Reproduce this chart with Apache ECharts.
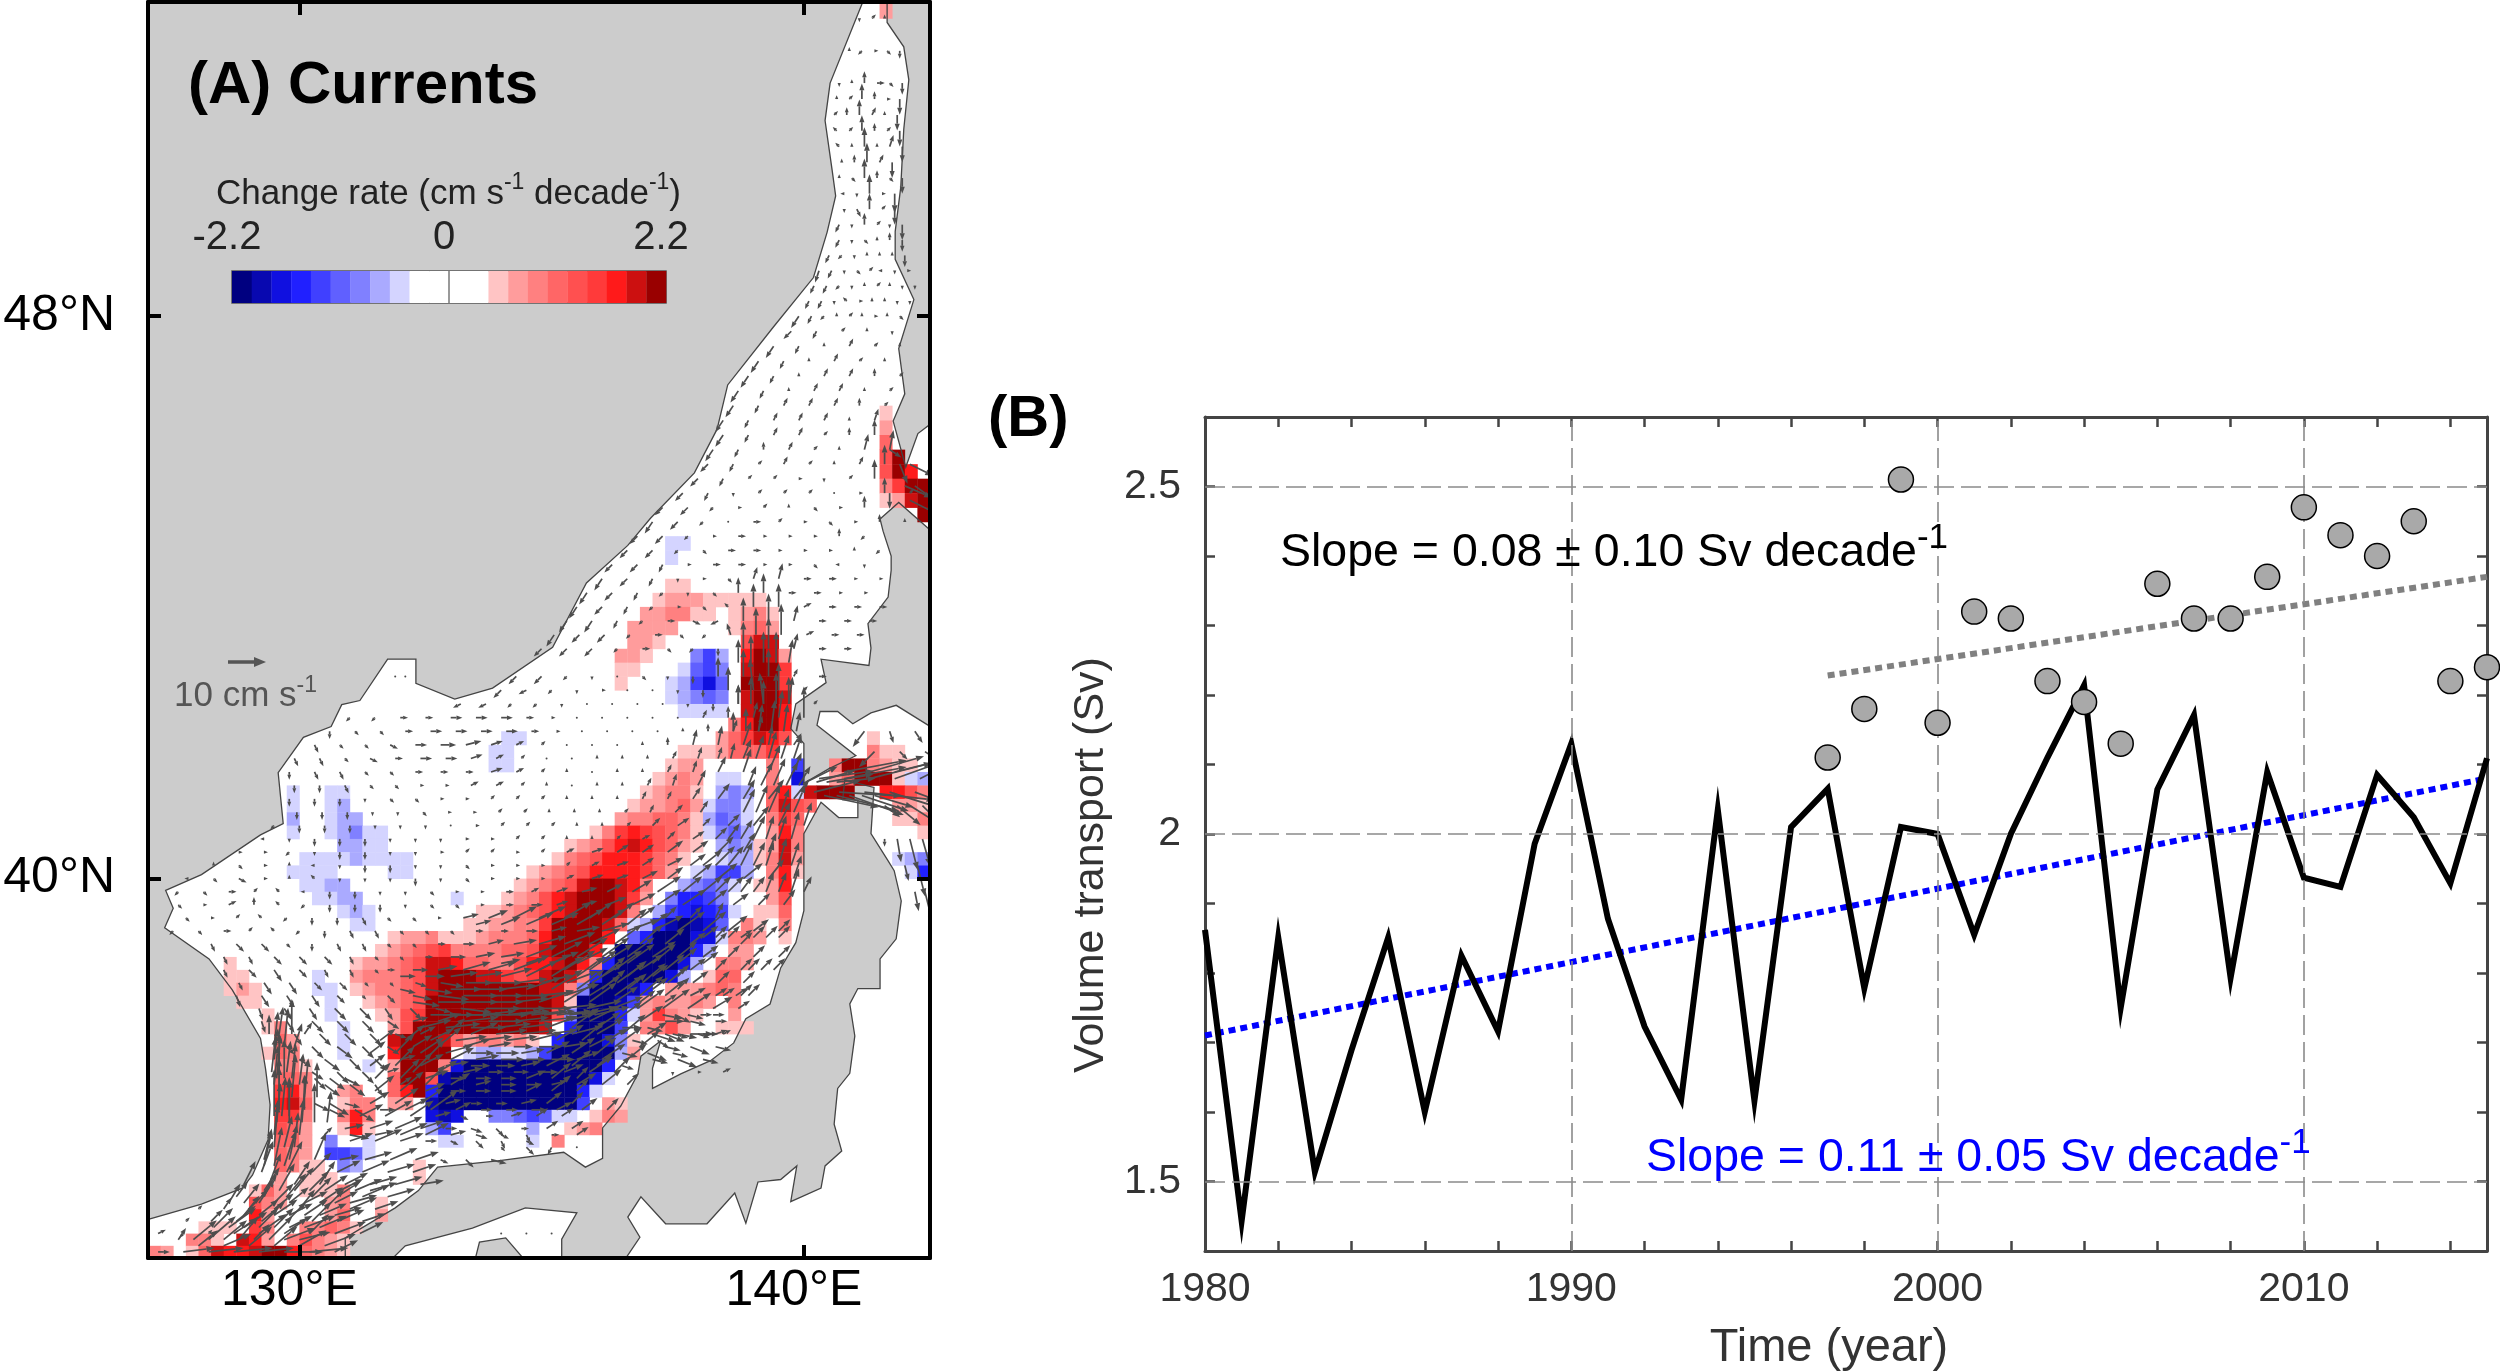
<!DOCTYPE html>
<html><head><meta charset="utf-8"><style>html,body{margin:0;background:#fff}#c{width:2500px;height:1372px}</style>
<script src="https://cdn.jsdelivr.net/npm/echarts@6/dist/echarts.min.js"></script></head><body><div id="c"></div>
<script>
// ---------- Panel B data ----------
const years=[1980,1981,1982,1983,1984,1985,1986,1987,1988,1989,1990,1991,1992,1993,1994,1995,1996,1997,1998,1999,2000,2001,2002,2003,2004,2005,2006,2007,2008,2009,2010,2011,2012,2013,2014,2015];
const transportModel=[1.862,1.443,1.851,1.514,1.689,1.851,1.60,1.825,1.716,1.986,2.13,1.878,1.723,1.618,2.035,1.616,2.01,2.065,1.778,2.01,2.0,1.855,2.0,2.11,2.214,1.75,2.064,2.171,1.793,2.089,1.937,1.924,2.085,2.024,1.929,2.109];
const obsYears=[1997,1998,1999,2000,2001,2002,2003,2004,2005,2006,2007,2008,2009,2010,2011,2012,2013,2014,2015];
const transportObs=[2.11,2.18,2.51,2.16,2.32,2.31,2.22,2.19,2.13,2.36,2.31,2.31,2.37,2.47,2.43,2.40,2.45,2.22,2.24];
const trendModel=[[1980,1.71],[2015,2.08]];
const trendObs=[[1997,2.228],[2015,2.37]];
const xGridYears=[1990,2000,2010];
const yGridValues=[1.5,2,2.5];
// ---------- Panel A data ----------
const lonTicks=[130,140];
const latTicks=[40,48];
const colorbarLabels=[-2.2,0,2.2];
const blueLevels=['#d4d4ff','#aaaaff','#8080ff','#6060ff','#4040ff','#2020ff','#1010e0','#0808b0','#000080']; // a..i
const redLevels=['#ffc4c4','#ff9c9c','#ff8080','#ff6666','#ff5050','#ff3a3a','#ff1a1a','#cc1010','#990000']; // 1..9
const seaRing=[[141.2,52.05],[140.52,51.0],[140.42,50.53],[140.56,49.9],[140.63,49.57],[140.46,49.1],[140.19,48.51],[139.4,47.86],[138.49,47.08],[138.28,46.48],[137.83,45.88],[136.96,45.25],[136.51,44.87],[135.69,44.34],[135.02,43.42],[133.83,42.83],[133.08,42.67],[132.31,42.9],[132.31,43.25],[131.75,43.25],[131.2,42.65],[130.84,42.59],[130.63,42.27],[130.08,42.11],[129.58,41.59],[129.68,40.83],[129.23,40.66],[128.06,40.06],[127.35,39.82],[127.5,39.55],[127.33,39.25],[128.21,38.77],[128.67,38.29],[129.23,37.53],[129.33,37.05],[129.42,36.48],[129.38,35.92],[129.07,35.35],[128.87,35.14],[128.06,34.88],[127.04,34.64],[126.8,34.6],[126.8,33.8],[130.91,33.8],[130.91,34.33],[131.9,34.82],[132.36,35.1],[132.74,35.48],[133.93,35.58],[135.24,35.72],[135.67,35.48],[136.01,35.62],[136.01,36.11],[136.37,36.46],[136.71,36.97],[136.77,37.25],[137.16,37.49],[137.0,37.06],[137.0,36.74],[137.56,36.97],[138.15,37.18],[138.61,37.46],[138.85,37.84],[139.33,38.07],[139.54,38.63],[139.84,39.02],[140.0,39.51],[140.0,40.68],[140.34,41.15],[140.69,40.92],[141.07,40.92],[141.07,41.18],[140.77,41.19],[140.81,41.48],[141.39,41.37],[141.33,40.68],[141.67,40.27],[141.79,40.12],[141.93,39.66],[141.83,39.08],[141.51,38.77],[141.51,38.31],[141.07,38.31],[140.91,38.07],[141.01,37.57],[140.91,36.98],[140.67,36.74],[140.6,36.17],[140.75,35.74],[140.42,35.5],[140.34,35.14],[139.74,34.92],[139.86,35.5],[139.54,35.28],[139.09,35.24],[138.85,34.57],[138.63,35.06],[138.08,34.56],[137.26,34.56],[136.77,35.0],[136.51,34.67],[136.75,34.34],[136.31,33.8],[142.8,33.8],[142.8,42.2],[142.46,42.29],[141.83,42.58],[141.33,42.47],[140.97,42.31],[140.67,42.49],[140.32,42.49],[140.26,42.29],[141.03,41.84],[140.5,41.65],[140.0,41.43],[140.0,42.02],[139.74,42.24],[139.84,42.6],[140.44,42.91],[140.34,43.25],[141.29,43.16],[141.33,43.41],[141.27,43.76],[141.67,44.14],[141.73,44.52],[141.73,44.72],[141.57,45.07],[141.51,45.24],[141.88,45.47],[142.8,44.9],[142.8,46.7],[142.26,46.42],[142.02,45.96],[141.77,46.59],[142.0,46.96],[141.88,47.57],[142.18,48.22],[141.81,48.75],[141.81,49.11],[141.92,49.68],[141.98,50.42],[142.08,51.04],[141.98,51.45],[141.65,51.75],[141.65,52.05]];
const inlandSea=[[131.61,33.8],[132.1,34.2],[133.43,34.49],[134.48,34.82],[135.5,34.74],[135.2,34.31],[135.2,33.8]];
const shikoku=[[133.43,33.8],[133.57,34.26],[134.09,34.33],[134.64,33.8]];
// [lat of the cell's south edge, first column, level of each 0.25 degree cell from there]
const heatRows=[
[51.8,58,'2'],[46.6,58,'1'],[46.4,58,'2'],[46.2,58,'4'],[46.0,58,'59'],[45.8,58,'597'],[45.6,58,'3699'],[45.4,58,'1289'],[45.2,61,'9'],
[44.8,41,'aa'],[44.6,41,'a'],[44.2,41,'11'],[44.0,40,'122211111'],[43.8,39,'223311.1231'],[43.6,38,'2222....1342'],[43.4,38,'221......588'],
[43.2,37,'221...ceb.7982'],[43.0,37,'11...adec.8996'],[42.8,37,'1...abegd.9996'],[42.6,41,'abcdc.8998'],[42.4,42,'aaaa.8997'],[42.2,46,'37997'],
[42.0,28,'aa'],[42.0,45,'246875......1'],[41.8,27,'aa'],[41.8,42,'11124446.......311'],[41.6,27,'aa'],[41.6,41,'122.....3.e..3993211'],[41.4,40,'1232.aa..3.g..249991ab'],
[41.2,11,'a..aa'],[41.2,39,'12331.bcb.47a8999..7753'],[41.0,11,'a..ab'],[41.0,38,'122342acca.4854......221'],[40.8,11,'b..abb'],[40.8,37,'2334431bdca.364.......113'],
[40.6,11,'a..abcaa'],[40.6,35,'136765431acdb.273.........1'],[40.4,15,'bbaa'],[40.4,33,'12357875421.bcb1283'],[40.2,12,'aaaabaaaa'],[40.2,32,'13457776431..abb1382.......abc'],
[40.0,11,'aaaa....aa'],[40.0,30,'123457777642.abeeb.371........af'],[39.8,12,'aabb'],[39.8,29,'12345899873..bcdca.127'],[39.6,13,'aabb'],[39.6,24,'a'],[39.6,28,'123578999862.cffec...25'],
[39.4,15,'aba........1123457899983.befgfea.114'],[39.2,16,'aa.......1122336999984abfhihgd.31.3'],[39.0,19,'122311123334799997.dfiiigga332.1'],
[38.8,18,'123456333344589997.iiiiiifb.22'],[38.6,6,'1.........12234588744335778973fiiiiigb.332'],[38.4,6,'11.....a..2333458999886568983fiiiiigb.144'],
[38.2,6,'121....aa.123345899999999883ciiihf.222343'],[38.0,7,'11.....a..12345999999999981iiihe232232.3'],[37.8,9,'1....a...125699999999995ciiifa26321..2'],
[37.6,9,'13....a...2599999999998.fiiie.3352..111'],[37.4,10,'42...a...899984233231.fiiigc1'],[37.2,9,'143...a...79999.abbaabeiiiiib2'],[37.0,10,'331....a.29993giiiiiiiiiiif'],
[36.8,10,'443......4995hiiiiiiiiiiiga'],[36.6,10,'673..23..479fiiiiiiiiiiifa'],[36.4,10,'784..133.22.hiiiiiiiiiiie.21'],[36.2,10,'663..373....ghg..ccdedaa.132'],
[36.0,10,'542..171....be......b..123'],[35.8,10,'442.c..a.....aa.....a.3'],[35.6,10,'432.eeda'],[35.4,10,'4311.cb....1'],[35.2,10,'2.111......1'],[35.0,8,'142.1113'],
[34.8,8,'532...23..1'],[34.6,8,'72....24..2'],[34.4,4,'111.63..33431'],[34.2,3,'331.872.35321'],[34.0,0,'32.1487789974321']];
// [lat, first lon, lon step, u,v, u,v, ...] in cm/s
const arrowRows=[
[51.8,141.1,.25,0,-1,1,1,0,1],[51.4,140.9,.25,0,1,-1,-1,1,0,1,-1,0,-2],[51.0,140.7,.25,0,-1,0,1,0,3,2,0,1,-1,0,-3],[50.6,140.6,.25,1,1,0,2,0,4,1,2,0,1,0,-4],
[50.2,140.7,.25,-1,1,0,1,0,5,0,1,1,3,0,-4],[49.8,140.7,.25,0,1,1,-1,0,5,0,2,1,-1,0,-4],[49.4,140.8,.25,0,-1,1,-2,0,4,1,1,0,-4],[49.0,140.7,.25,-1,-2,0,-1,1,-1,0,1,0,2,0,-3],
[48.6,140.3,.25,-1,-3,-1,-2,0,-1,1,-1,1,1,-1,0,0,-1,1,0],[48.2,140.1,.25,-1,-2,-1,-2,0,-1,-1,1,1,0,0,1,0,1,0,-1,0,-1],
[47.8,139.75,.5,-2,-2,-1,-2,1,1,0,1,0,-1],[47.4,139.1,.5,-2,-3,-1,-2,0,1,1,2,1,1,0,1],[47.0,138.7,.5,-2,-3,-1,-2,0,1,1,2,1,2,0,1,1,1],[46.6,138.4,.5,-2,-3,-1,-2,1,2,1,2,1,2,0,1,1,3],
[46.2,138.2,.5,-2,-3,-1,-2,0,2,1,2,1,1,0,1,1,4,1,5],[45.8,137.9,.5,-2,-2,-1,-2,1,1,1,1,1,0,0,-1,1,1,0,5],[45.4,137.2,.5,-2,-2,-2,-2,-1,-1,1,0,1,1,0,1,1,-1,1,0,0,3],
[45.0,136.7,.5,-2,-2,-2,-2,-1,-1,1,0,2,0,1,0,1,0,1,0,0,2,-1,-1],[44.6,136.2,.5,-2,-2,-2,-2,-1,-2,1,0,2,0,2,0,1,0,1,0,1,-1,-1,0,0,-1],
[44.2,135.7,.5,-2,-3,-2,-2,-1,-2,-1,-1,0,-1,1,-1,0,4,0,5,2,0,2,0,1,0,1,0],[43.8,135.3,.5,-2,-3,-2,-3,-1,-2,-1,-1,2,0,2,-1,-2,-1,0,6,0,7,1,4,2,0,2,0,2,0],
[43.4,134.8,.5,-2,-2,-2,-2,-2,-2,-1,-1,2,0,1,-1,-1,-1,0,-2,0,7,0,8,1,4,2,0,2,0],[43.2,138.7,.25,0,6,0,7,0,8,0,8,1,6],[43.0,131.9,.2,0,0,0,0],
[42.8,134,.5,-2,-2,-2,-1,-1,-1,0,-1,1,0,0,0,0,0,0,-1,0,-2,0,6,-1,8,0,7,1,1],[42.6,138.7,.25,0,5,0,7,-1,8,0,8,1,7],
[42.4,131,.5,-1,-1,-1,-1,2,0,2,0,3,0,3,0,3,0,2,0,1,0,0,0,0,0,0,0,0,0,0,0,1,2,0,3,1,4,1,7,0,8],
[42.2,138.6,.25,0,5,0,6,1,7,1,8,1,7,1,5],
[42.0,130.3,.5,1,-2,1,-1,1,-1,2,-1,3,0,4,0,4,1,3,1,2,1,1,1,0,0,0,0,0,0,0,1,0,2,1,4,1,5,2,6,1,5,2,3],
[41.8,138.3,.25,1,3,1,4,2,5,2,6,2,7,2,6,2,6],
[41.6,129.8,.5,0,-2,1,-2,1,-2,1,-1,1,-1,2,0,2,0,2,0,3,1,2,1,1,1,0,1,0,0,0,1,0,1,1,2,1,3,2,4,2,6,3,7,2,5],
[41.4,138.9,.25,2,5,3,6,3,7,3,6,3,5],
[41.2,129.8,.5,0,-2,0,-2,0,-2,0,-1,1,-1,1,-1,1,0,1,0,1,1,1,1,1,1,0,1,0,1,0,1,1,2,1,2,2,3,3,4,3,5,4,5,4,5],
[41.0,138.8,.25,3,6,3,7,3,7,2,6,3,7],
[40.8,129.5,.5,-1,-1,0,-2,0,-2,0,-2,0,-1,0,-1,0,-1,0,0,1,0,1,1,1,1,1,1,0,1,0,1,1,1,2,2,3,2,2,2,3,3,4,5,3,6,2,6],
[40.6,138.25,.25,3,3,3,4,3,5,3,6,2,6,2,6,2,7],
[40.4,128.8,.5,1,0,1,0,-1,-1,0,-1,0,-2,0,-2,0,-1,0,-1,1,0,1,1,1,1,1,0,1,1,2,1,3,1,3,2,3,2,4,3,4,3,4,4,3,5,2,5],
[40.2,137.75,.25,4,3,5,4,5,5,4,5,3,6,3,6,2,6,2,7,2,6],
[40.0,127.8,.5,-1,0,1,-1,2,-1,1,0,0,1,-1,1,0,-1,0,-1,0,-1,0,-2,0,-1,1,-1,1,0,1,0,1,0,2,1,3,1,3,1,4,2,4,3,5,4,5,4,5,4,4,5,2,6],
[39.8,138,.25,5,4,4,4,4,4,3,4,3,4,2,5,2,5,2,6,2,4],
[39.6,127.6,.5,1,-1,1,0,2,1,0,2,-1,1,-1,-1,0,-2,0,-2,0,-2,0,-1,1,-1,1,-1,1,0,2,0,3,0,3,1,4,1,5,2,6,3,6,4,6,4,5,4,4,3,3,3,3,4],
[39.4,133.25,.5,4,1,5,2,6,3,7,3,7,4,6,4,5,4,4,3,3,3,3,3,2,4],
[39.2,127.5,.5,-1,-1,1,-1,2,0,1,1,-1,1,-1,-1,0,-2,1,-2,1,-2,1,-1,1,-1,1,-1,2,0,2,0,3,0,4,1,6,1,7,2,8,3,8,4,7,5,6,5,5,4,4,3,3,3],
[39.0,133.25,.5,3,0,4,1,6,1,7,2,8,3,8,4,7,5,6,5,5,4,4,3,3,3,3,3],
[38.8,128.5,.5,1,-2,1,-2,2,-2,2,-2,2,-2,1,-2,1,-1,1,-1,2,0,4,0,5,1,6,1,8,3,8,4,8,5,7,5,7,5,6,4,5,4,4,3,3,3,3,3,3,3],
[38.6,131.75,.5,2,0,4,0,5,1,7,2,7,2,8,3,8,4,8,5,7,5,7,5,6,4,5,4,4,3,3,3,3,3],
[38.4,128.8,.5,1,-2,2,-3,2,-3,2,-2,2,-2,1,-1,1,-1,3,-1,6,-1,7,0,8,0,8,1,8,2,8,3,8,5,7,5,6,5,5,4,4,3,3,3,3,3],
[38.2,131.25,.5,1,-1,2,-2,5,-1,8,-1,9,0,9,0,9,0,9,1,9,3,8,5,7,5,6,5,5,4,4,2,3,2,3,3],
[38.0,129.2,.5,1,-3,2,-3,2,-3,3,-3,3,-3,2,-3,3,-3,4,-1,8,-1,9,0,9,0,9,0,9,1,9,2,8,3,7,5,7,5,6,4,5,3,3,2],
[37.9,132.6,.25,7,0,8,0,9,0,9,0,9,1,9,0,9,1,8,1,9,1,8,1,9,1,8,1,9,2,9,2],
[37.8,129.25,.5,1,-3,2,-3,3,-3,3,-3,3,-3,3,-2,4,1,6,2,9,1,9,0,9,1,9,1,8,2,8,4,7,5,6,4,5,0,4,-1,3,0],
[37.6,129.4,.5,0,5,2,-3,3,-3,3,-3,3,-3,3,-1,4,2,5,4,7,3,8,1,9,1,8,1,8,2,7,4,6,5,5,3,4,-1,3,-1,2,1],
[37.4,129.75,.5,2,-2,3,-3,4,-3,3,-3,3,-2,5,3,6,5,7,2,6,1,5,0,6,0,6,1,6,3,7,5,5,4,4,-1,5,-2,4,-1],
[37.2,129.5,.5,1,8,3,-2,4,-3,3,-3,3,-3,4,1,5,5,6,3,6,1,6,0,5,0,6,0,6,2,6,4,5,4,4,-1,5,-2,4,-1],
[37.0,129.75,.5,1,8,3,-2,3,-3,3,-3,3,1,5,5,5,3,5,1,4,0,4,0,5,0,5,2,6,4,4,4],[37.0,137.4,.5,0,-1,1,0,2,1],
[36.8,129.5,.5,1,10,1,8,4,-3,4,-3,2,-3,3,2,5,5,5,3,4,1,4,0,4,0,4,1,5,3,5,4,3,3],
[36.6,129.6,.25,0,10,1,11,1,10,0,9],
[36.4,129.6,.5,0,11,0,9,4,-2,5,-3,4,0,6,3,7,5,4,2,3,0,3,0,4,0,4,2,4,3,3,3],
[36.2,129.55,.25,1,10,0,11,1,12,0,10,1,8],
[36.0,129.5,.5,1,9,1,9,2,2,5,-1,5,1,7,3,6,3,4,1,3,-1,2,-1,1,-2,2,0,3,2],[35.8,134,.5,1,-1,2,-2,-1,-2,0,0],
[35.6,129.3,.5,2,8,2,9,3,7,5,1,7,2,7,3,6,2,2,-1,2,-2,4,-1],[35.4,129.25,.5,3,8,4,8,5,5,6,3,7,3,7,2,6,2],
[35.2,128.9,.5,3,6,3,8,4,6,4,6,6,3,7,2,7,2,6,1],[35.0,128.75,.5,3,4,4,6,5,6,5,5,6,4,7,3,7,2],
[34.8,128,.5,1,1,2,3,5,5,5,4,4,5,5,5,7,3,6,2],[34.6,127.75,.5,1,1,3,3,5,4,6,5,5,5,5,5,7,3,6,2],
[34.4,127.2,.5,2,1,-1,-1,1,1,6,4,7,5,6,4,5,5,8,3,6,3],[34.4,134,.5,0,0,0,0,0,0],[34.2,128,.5,5,4,7,3,6,5,6,5,7,4,8,3],
[34.1,127.2,.5,3,0,8,1,9,1,10,1,9,1,10,0,10,1,6,3],
[46.0,141.9,.2,2,-5,6,-3],[46.2,141.7,.2,3,-2],[45.7,142,.2,7,-3,7,-5],[45.5,142.1,.2,8,-4],[45.6,141.7,.2,0,-4],
[41.6,140.8,.5,16,3,14,4,12,3],[41.5,140.3,.5,14,2,16,3,16,4,14,5,12,6],[41.3,140.2,.5,12,3,16,-1,18,-2,16,-5,14,-5,10,-4],[41.1,141.6,.25,4,-3,6,-5,8,-5,6,-6],
[42.2,141.2,.5,-3,-4,1,-3,2,-3],[41.9,141.4,.5,-4,-4,2,-2,3,-2],[40.6,141.6,.25,0,-2,1,-6,2,-8,2,-7],[40.2,142,.25,1,-4,2,-8,2,-6],[39.8,142.2,.2,1,-5,2,-8],
// second, staggered set of readings
[50.8,140.65,.25,0,1,1,1,0,4,0,2,1,0,0,-4],[50.4,140.65,.25,-1,1,1,1,0,4,0,2,1,1,0,-4],[50.0,140.75,.25,0,1,0,2,0,5,1,2,0,-4],[49.6,140.8,.25,-1,0,0,-1,0,5,1,0,0,-5],
[49.2,140.7,.25,-1,-2,0,-1,0,3,1,1,0,-1,0,-4],[48.8,140.5,.25,-1,-2,-1,-1,0,-1,0,1,0,1,0,1,0,-3],[48.4,140.2,.25,-1,-2,-1,-2,-1,-1,0,-1,0,1,1,1,0,1,0,-1,0,-1],
[48.0,139.9,.25,-2,-3,-1,-2,-1,-1,0,1,1,1,0,1,1,0,0,1,1,-1],[47.6,139.4,.5,-2,-3,-1,-2,0,1,1,2,1,1,0,1],[47.2,138.9,.5,-2,-3,-1,-2,0,1,1,2,1,2,0,2,1,1],
[46.8,138.6,.5,-2,-3,-1,-2,1,2,1,2,1,2,0,2,1,1],[46.4,138.4,.5,-2,-3,-1,-2,1,2,1,2,1,1,0,2,0,4],[46.0,138.1,.5,-2,-2,-1,-2,1,1,1,2,1,1,0,1,1,2,0,5],
[45.6,137.6,.5,-2,-2,-1,-2,0,-1,1,1,1,1,1,1,0,0,1,0,0,4,1,1],[45.2,137.0,.5,-2,-3,-2,-2,-1,-1,0,0,2,0,1,1,1,0,1,-1,1,0,0,2,0,1],
[44.8,136.5,.5,-2,-2,-2,-2,-1,-1,1,-1,2,0,2,0,1,0,1,0,1,0,0,1,-1,-1],[44.4,136.0,.5,-2,-3,-2,-2,-1,-2,0,-1,1,0,1,-1,1,3,1,4,2,0,2,0,1,0,1,0],
[44.0,135.5,.5,-2,-3,-2,-2,-1,-2,-1,-1,1,0,1,-1,-1,1,0,6,0,6,2,1,2,0,2,0,2,0],[43.6,135.05,.5,-2,-3,-2,-2,-2,-2,-1,-1,2,0,1,-1,-1,-1,-1,3,0,7,0,8,2,1,2,0,2,0],
[43.0,134.3,.5,-2,-2,-2,-2,-1,-1,0,-1,0,0,1,-1,0,-1,0,-2,0,5,0,7,0,7,1,2,2,0],[42.6,133.2,.5,-2,-1,-2,-1,-1,-1,-1,-1,0,-1,0,0,0,0,0,0,0,0,0,-1,0,-2,0,5,0,6,0,7,1,1],
[42.2,130.6,.5,0,-2,1,-1,1,-1,2,0,3,0,3,0,3,0,3,0,2,0,1,0,0,0,0,0,0,0,0,0,0,1,0,2,1,3,1,4],[41.8,129.9,.5,1,-2,1,-2,1,-1,2,-1,2,0,3,0,3,0,3,1,2,1,1,1,0,0,0,0,0,1,0,1,0,1,1,2,1,3],
[41.4,129.9,.5,0,-2,0,-2,1,-2,1,-1,1,-1,1,0,1,0,2,1,2,1,1,1,0,1,0,0,0,1,0,1,1,2,1,3,2,4],[41.0,129.95,.5,0,-2,0,-2,0,-2,0,-1,0,-1,1,-1,1,0,1,0,1,1,1,1,0,1,0,1,0,1,1,1,1,2,2,2,2,3],
[40.6,129.3,.5,-1,0,0,-1,0,-2,0,-2,0,-2,0,-1,0,-1,0,-1,1,0,1,0,1,1,1,1,0,1,0,1,1,1,2,1,2,2,3,2],[40.2,128.3,.5,0,1,1,-1,1,0,0,1,-1,0,0,-1,0,-2,0,-2,0,-1,0,-1,1,-1,1,0,1,0,1,0,1,1,2,1,3,1,3,2,4,2],
[39.8,127.6,.5,-1,-1,1,-1,2,0,1,1,-1,1,-1,0,0,-2,0,-2,0,-1,0,-1,1,-1,1,0,1,0,2,0,2,1,3,1,4,1,4,2,5,3,6,4,5,4],[39.4,127.75,.5,1,-1,1,0,1,1,-1,1,-1,-1,0,-2,0,-2,1,-2,1,-1,1,-1,1,0],
[39.0,128.25,.5,1,-2,2,-2,2,-2,1,-1,0,-2,1,-2,1,-2,1,-1,1,-1,2,0],[38.6,128.5,.5,1,-2,2,-2,2,-3,2,-2,1,-2,1,-2,1,-1],[38.2,128.75,.5,1,-3,2,-3,2,-3,2,-3,2,-2],
[39.3,133.5,.5,4,1,5,2,7,3,7,3,7,4,6,4,5,4,4,3],[38.7,134,.5,5,1,6,2,7,3,8,4,8,5,7,5,6,5,5,4,4,3],[38.5,132,.5,4,0,5,0,7,1,7,1,8,2,8,4,8,5,7,5,6,5,5,4,4,3,3,3],
[38.3,132,.5,4,-1,7,-1,8,0,8,0,9,1,9,3,8,5,7,5,6,5,5,4,4,3,3,3],[38.1,132.25,.5,7,-1,8,0,9,0,9,0,9,1,9,3,8,5,7,5,6,4,4,3,3,2],[37.7,132.4,.5,8,2,9,1,9,0,9,1,8,1,8,3,7,5,6,4,5,0,4,-1],
[37.5,131.6,.5,4,3,5,4,6,3,8,1,8,1,8,1,8,2,7,4,6,5,5,3,4,-1,3,-2],[37.3,131.4,.5,4,3,5,5,6,4,7,2,6,0,6,0,6,1,6,3,6,4,5,4,4,-1,5,-2,4,-1],[37.1,131.4,.5,4,3,5,5,6,3,6,1,5,0,5,0,5,1,6,3,5,4,4,3,3,-1],
[36.9,131.5,.5,4,4,5,5,6,2,4,0,4,0,4,0,5,2,5,4,3,3],[36.7,131.5,.5,5,4,6,5,5,2,4,0,4,0,4,0,4,2,5,4,3,3],[36.5,131.4,.5,5,3,6,4,6,4,4,1,3,0,3,0,4,1,4,3,3,3],
[36.3,131.2,.5,6,3,7,4,6,4,4,1,2,-1,2,0,3,1,3,2,3,2],[36.1,130.9,.5,5,1,6,2,7,3,6,2,3,0,3,-1,2,-2,2,0,3,2,3,2],[35.9,131,.5,6,2,7,3,6,2,3,0,2,-1,2,-2,1,-2,2,-1],
[37.4,129.5,.2,1,9,1,10,2,6],[37.6,129.6,.25,1,7,0,9,2,3],[37.0,129.45,.15,1,9,0,10],[36.9,129.55,.15,1,11,0,10,1,9],[36.3,129.5,.15,0,12,1,10,0,10],[35.8,129.5,.2,1,11,2,8,1,9],[35.5,129.3,.2,2,9,2,10,3,9],
[36.9,130.3,.3,3,-3,4,-3,4,-2],[36.5,130.3,.3,4,-2,5,-3,4,-1],[35.1,129.3,.3,4,6,4,7,5,6,5,5,6,4,6,3,7,3,7,2],[34.9,128.6,.3,3,5,4,5,4,6,5,5,5,4,6,3,6,4,6,3,7,2],
[34.7,128.9,.3,4,5,5,4,6,4,6,3,6,4,7,3,7,2],[34.5,128.3,.3,5,5,7,5,6,4,5,5,5,5,6,3,8,3,7,3],[34.3,127.6,.3,2,3,6,5,7,6,6,5,5,6,4,4,6,6,8,3,8,2],
[39.1,138,.25,4,3,3,3,3,3,3,2,3,3,3,3,3,3],[38.6,138.9,.25,3,3,3,3,3,3],[38.2,138.4,.25,3,2,3,2,3,3],[37.9,137.2,.25,5,-1,4,-2,4,-1,3,0,3,0],[37.6,137,.25,6,-2,5,-2,5,-1,6,0,4,0,3,1],
[41.45,140.05,.2,8,4,10,3,12,2,10,1],[41.25,140.4,.25,14,-3,16,-4,14,-5,12,-4,10,-3]];

// ---------- helpers ----------
const merc=lat=>Math.log(Math.tan(Math.PI/4+lat*Math.PI/360));
const cellColor=ch=>{const b='abcdefghi'.indexOf(ch);return b>=0?blueLevels[b]:redLevels[+ch-1];};
const heatData=[];
heatRows.forEach(([lat,col,s])=>{[...s].forEach((ch,i)=>{if(ch!=='.')heatData.push([127+.25*(col+i),lat,ch]);});});
const arrowData=[];
arrowRows.forEach(r=>{for(let i=3,k=0;i<r.length;i+=2,k++)arrowData.push([r[1]+k*r[2],merc(r[0]),r[i],r[i+1]]);});
const PX_PER_CM=3.9;
const polys=(list,fill,stroke,z)=>({type:'custom',xAxisIndex:0,yAxisIndex:0,coordinateSystem:'cartesian2d',clip:true,silent:true,z,
  data:list.map((_,i)=>[127,merc(40),i]),
  renderItem:(p,api)=>{const pts=list[api.value(2)].map(q=>api.coord([q[0],merc(q[1])]));
    return {type:'polygon',shape:{points:pts},style:{fill:fill[api.value(2)]||'none',stroke:stroke,lineWidth:stroke?1.3:0}};}});
const cbColors=[...blueLevels].reverse().concat(['#fff','#fff','#fff','#fff'],redLevels);
const sup={fontSize:35,padding:[0,0,30,0],fontFamily:'Liberation Sans'};
const txt=(x,y,t,o)=>({type:'text',x,y,z:50,style:Object.assign({text:t,fontFamily:'Liberation Sans',verticalAlign:'middle'},o)});

const opt={animation:false,backgroundColor:'#fff',
 grid:[
  {left:148,top:2,width:782,height:1256,show:true,backgroundColor:'#cccccc',borderWidth:0,outerBoundsMode:'none'},
  {left:1205,top:417,width:1282,height:834,outerBoundsMode:'none'},
  {left:232,top:271,width:434,height:32,show:true,borderColor:'#555',borderWidth:1.5,backgroundColor:'#fff',outerBoundsMode:'none'}],
 xAxis:[
  {gridIndex:0,type:'value',min:127,max:142.5,position:'bottom',z:10,splitLine:{show:false},axisLine:{lineStyle:{color:'#000',width:4}},
   axisTick:{inside:true,length:13,lineStyle:{width:4,color:'#000'},customValues:lonTicks},
   axisLabel:{customValues:lonTicks,formatter:v=>v+'°E',fontSize:50,color:'#000',fontFamily:'Liberation Sans',margin:8,padding:[0,20,0,0]}},
  {gridIndex:0,type:'value',min:127,max:142.5,position:'top',z:10,splitLine:{show:false},axisLine:{lineStyle:{color:'#000',width:4}},
   axisTick:{inside:true,length:13,lineStyle:{width:4,color:'#000'},customValues:lonTicks},axisLabel:{show:false}},
  {gridIndex:1,type:'value',min:1980,max:2015,interval:2,position:'bottom',name:'Time (year)',nameLocation:'middle',nameGap:74,
   nameTextStyle:{fontSize:47,color:'#333',fontFamily:'Liberation Sans',padding:[0,34,0,0]},splitLine:{show:false},axisLine:{lineStyle:{color:'#444',width:3}},
   axisTick:{inside:true,length:10,lineStyle:{color:'#444',width:2.5}},
   axisLabel:{fontSize:41,color:'#333',fontFamily:'Liberation Sans',margin:18,hideOverlap:false,showMinLabel:true,showMaxLabel:false,formatter:v=>v%10===0?String(v):''}},
  {gridIndex:1,type:'value',min:1980,max:2015,interval:2,position:'top',splitLine:{show:false},axisLine:{lineStyle:{color:'#444',width:3}},
   axisTick:{inside:true,length:10,lineStyle:{color:'#444',width:2.5}},axisLabel:{show:false}},
  {gridIndex:2,type:'value',min:-2.2,max:2.2,position:'top',z:10,splitLine:{show:false},axisLine:{show:false},axisTick:{show:false},
   axisLabel:{customValues:colorbarLabels,fontSize:40,color:'#222',fontFamily:'Liberation Sans',margin:13,padding:[0,10,0,0],formatter:v=>String(v)}}],
 yAxis:[
  {gridIndex:0,type:'value',min:merc(34),max:merc(52),position:'left',z:10,splitLine:{show:false},axisLine:{lineStyle:{color:'#000',width:4}},
   axisTick:{inside:true,length:13,lineStyle:{width:4,color:'#000'},customValues:latTicks.map(merc)},
   axisLabel:{customValues:latTicks.map(merc),formatter:v=>Math.round(latTicks.find(l=>Math.abs(merc(l)-v)<1e-6))+'°N',fontSize:50,color:'#000',fontFamily:'Liberation Sans',margin:33,padding:[6,0,0,0]}},
  {gridIndex:0,type:'value',min:merc(34),max:merc(52),position:'right',z:10,splitLine:{show:false},axisLine:{lineStyle:{color:'#000',width:4}},
   axisTick:{inside:true,length:13,lineStyle:{width:4,color:'#000'},customValues:latTicks.map(merc)},axisLabel:{show:false}},
  {gridIndex:1,type:'value',min:1.4,max:2.6,interval:.1,position:'left',name:'Volume transport (Sv)',nameLocation:'middle',nameGap:83,
   nameTextStyle:{fontSize:43,color:'#333',fontFamily:'Liberation Sans',padding:[0,62,0,0]},splitLine:{show:false},axisLine:{lineStyle:{color:'#444',width:3}},
   axisTick:{inside:true,length:10,lineStyle:{color:'#444',width:2.5}},
   axisLabel:{fontSize:41,color:'#333',fontFamily:'Liberation Sans',margin:24,showMinLabel:false,showMaxLabel:false,
     formatter:v=>{const hit=yGridValues.find(g=>Math.abs(g-v)<1e-6);return hit===undefined?'':String(hit);}}},
  {gridIndex:1,type:'value',min:1.4,max:2.6,interval:.1,position:'right',splitLine:{show:false},axisLine:{lineStyle:{color:'#444',width:3}},
   axisTick:{inside:true,length:10,lineStyle:{color:'#444',width:2.5}},axisLabel:{show:false}},
  {gridIndex:2,type:'value',min:0,max:1,show:false}],
 series:[
  polys([seaRing,inlandSea],['#fff','#fff'],null,1),
  {type:'custom',xAxisIndex:0,yAxisIndex:0,clip:true,silent:true,z:2,data:heatData.map((d,i)=>[d[0],d[1],i]),
   renderItem:(p,api)=>{const d=heatData[api.value(2)];const a=api.coord([d[0],merc(d[1])]),b=api.coord([d[0]+.25,merc(d[1]+.2)]);
     return {type:'rect',shape:{x:a[0],y:b[1],width:b[0]-a[0]+.4,height:a[1]-b[1]+.4},style:{fill:cellColor(d[2])}};}},
  polys([seaRing,inlandSea],[null,null],'#444',3),
  polys([shikoku],['#cccccc'],'#444',3),
  {type:'custom',xAxisIndex:0,yAxisIndex:0,clip:true,silent:true,z:4,data:arrowData,
   renderItem:(p,api)=>{const s=api.coord([api.value(0),api.value(1)]);const u=api.value(2)*PX_PER_CM,v=-api.value(3)*PX_PER_CM;const L=Math.hypot(u,v);
     if(L<.1)return {type:'circle',shape:{cx:s[0],cy:s[1],r:1},style:{fill:'#4d4d4d'}};
     const ux=u/L,uy=v/L,h=Math.min(8,3+L*.25),w=Math.min(3,1.3+L*.08),tip=[s[0]+u,s[1]+v],bx=tip[0]-ux*h,by=tip[1]-uy*h;
     return {type:'group',children:[{type:'line',shape:{x1:s[0],y1:s[1],x2:bx,y2:by},style:{stroke:'#4d4d4d',lineWidth:1.7}},
       {type:'polygon',shape:{points:[tip,[bx-uy*w,by+ux*w],[bx+uy*w,by-ux*w]]},style:{fill:'#4d4d4d'}}]};}},
  {type:'custom',xAxisIndex:4,yAxisIndex:4,silent:true,z:5,data:cbColors.map((c,i)=>[i]).concat([[99]]),
   renderItem:(p,api)=>{const i=api.value(0);
     if(i===99){const a=api.coord([0,0]),b=api.coord([0,1]);return {type:'line',shape:{x1:a[0],y1:a[1],x2:b[0],y2:b[1]},style:{stroke:'#777',lineWidth:1.5}};}
     const a=api.coord([-2.2+.2*i,0]),b=api.coord([-2.2+.2*(i+1),1]);
     return {type:'rect',shape:{x:a[0],y:b[1],width:b[0]-a[0]+.3,height:a[1]-b[1]},style:{fill:cbColors[i]}};}},
  {type:'line',xAxisIndex:2,yAxisIndex:2,silent:true,z:1,data:[],symbol:'none',
   markLine:{silent:true,symbol:'none',label:{show:false},animation:false,lineStyle:{color:'#8a8a8a',type:[20,7],width:1.6},
     data:xGridYears.map(x=>({xAxis:x})).concat(yGridValues.map(y=>({yAxis:y})))}},
  {type:'line',xAxisIndex:2,yAxisIndex:2,silent:true,z:3,data:trendModel,symbol:'none',lineStyle:{color:'#0000ff',width:6,type:[7,5]}},
  {type:'line',xAxisIndex:2,yAxisIndex:2,silent:true,z:3,data:trendObs,symbol:'none',lineStyle:{color:'#808080',width:6,type:[7,5]}},
  {type:'line',xAxisIndex:2,yAxisIndex:2,silent:true,z:4,data:years.map((y,i)=>[y,transportModel[i]]),symbol:'none',clip:false,lineStyle:{color:'#000',width:6,join:'miter'}},
  {type:'scatter',xAxisIndex:2,yAxisIndex:2,silent:true,z:5,clip:false,data:obsYears.map((y,i)=>[y,transportObs[i]]),symbol:'circle',symbolSize:25,itemStyle:{color:'#a9a9a9',borderColor:'#000',borderWidth:1.5,opacity:1}}
 ],
 graphic:[
  txt(188,86,'(A) Currents',{fontSize:60,fontWeight:'bold',fill:'#000'}),
  txt(988,420,'(B)',{fontSize:58,fontWeight:'bold',fill:'#000'}),
  txt(216,194,'{m|Change rate (cm s}{s|-1}{m| decade}{s|-1}{m|)}',{rich:{m:{fontSize:35,fill:'#222',fontFamily:'Liberation Sans'},s:{fontSize:23,padding:[0,0,22,0],fill:'#222',fontFamily:'Liberation Sans'}}}),
  txt(1280,553,'{m|Slope = 0.08 ± 0.10 Sv decade}{s|-1}',{rich:{m:{fontSize:46.5,fill:'#000',fontFamily:'Liberation Sans'},s:Object.assign({fill:'#000'},sup)}}),
  txt(1646,1158,'{m|Slope = 0.11 ± 0.05 Sv decade}{s|-1}',{rich:{m:{fontSize:46.5,fill:'#0000ff',fontFamily:'Liberation Sans'},s:Object.assign({fill:'#0000ff'},sup)}}),
  {type:'line',z:50,shape:{x1:228,y1:662,x2:258,y2:662},style:{stroke:'#555',lineWidth:3.5}},
  {type:'polygon',z:50,shape:{points:[[266,662],[254,657],[254,667]]},style:{fill:'#555'}},
  txt(174,696,'{m|10 cm s}{s|-1}',{rich:{m:{fontSize:35,fill:'#555',fontFamily:'Liberation Sans'},s:{fontSize:23,padding:[0,0,20,0],fill:'#555',fontFamily:'Liberation Sans'}}})
 ]};
echarts.init(document.getElementById('c'),null,{renderer:'canvas'}).setOption(opt);
</script></body></html>
